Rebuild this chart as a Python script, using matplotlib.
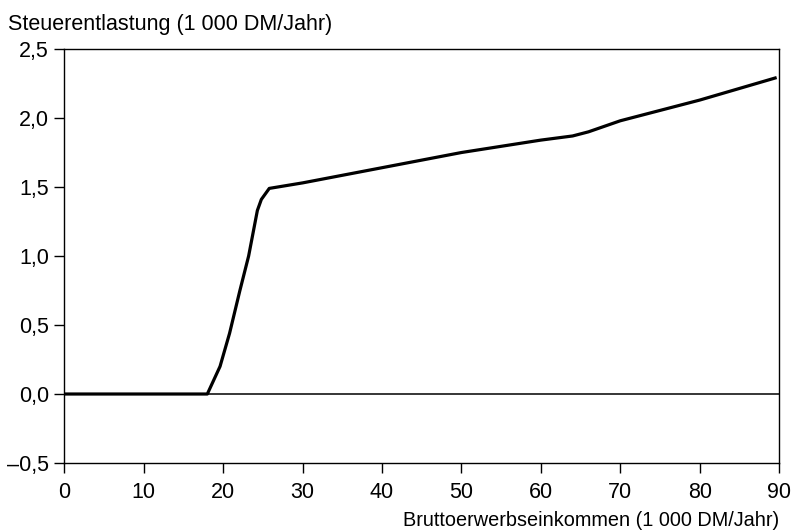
import matplotlib
matplotlib.use('Agg')
import matplotlib.pyplot as plt
from matplotlib.ticker import FuncFormatter

plt.rcParams['font.family'] = ['Liberation Sans', 'DejaVu Sans']

# Bruttoerwerbseinkommen (1 000 DM/Jahr) und Steuerentlastung (1 000 DM/Jahr)
einkommen = [0, 18, 19.6, 20.8, 22.1, 23.2, 24.3, 24.8, 25.8, 30, 40, 50, 60, 64, 66, 70, 80, 89.5]
entlastung = [0, 0, 0.2, 0.44, 0.75, 1.0, 1.33, 1.41, 1.49, 1.53, 1.64, 1.75, 1.84, 1.87, 1.90, 1.98, 2.13, 2.29]

xticks = [0, 10, 20, 30, 40, 50, 60, 70, 80, 90]
yticks = [-0.5, 0.0, 0.5, 1.0, 1.5, 2.0, 2.5]

fig, ax = plt.subplots(figsize=(7.95, 5.3), dpi=100)
fig.subplots_adjust(left=0.081, right=0.98, top=0.9075, bottom=0.1264)

ax.axhline(0, color='black', lw=1.1)
ax.plot(einkommen, entlastung, color='black', lw=2.3, solid_joinstyle='round')

ax.set_xlim(0, 90)
ax.set_ylim(-0.5, 2.5)
ax.set_xticks(xticks)
ax.set_yticks(yticks)

def komma(v, pos):
    s = f'{v:.1f}'.replace('.', ',')
    return s.replace('-', '\u2013')

ax.yaxis.set_major_formatter(FuncFormatter(komma))
ax.xaxis.set_major_formatter(FuncFormatter(lambda v, pos: f'{int(v)}'))

ax.tick_params(direction='out', length=7, width=1, labelsize=15.5, color='black')
ax.tick_params(axis='x', pad=7)
ax.tick_params(axis='y', pad=4)
for s in ax.spines.values():
    s.set_linewidth(1.0)

fig.text(0.01, 0.944, 'Steuerentlastung (1 000 DM/Jahr)', fontsize=15.5, ha='left', va='baseline')
fig.text(0.98, 0.008, 'Bruttoerwerbseinkommen (1 000 DM/Jahr)', fontsize=14.3, ha='right', va='baseline')

fig.savefig('out.png', dpi=100)
